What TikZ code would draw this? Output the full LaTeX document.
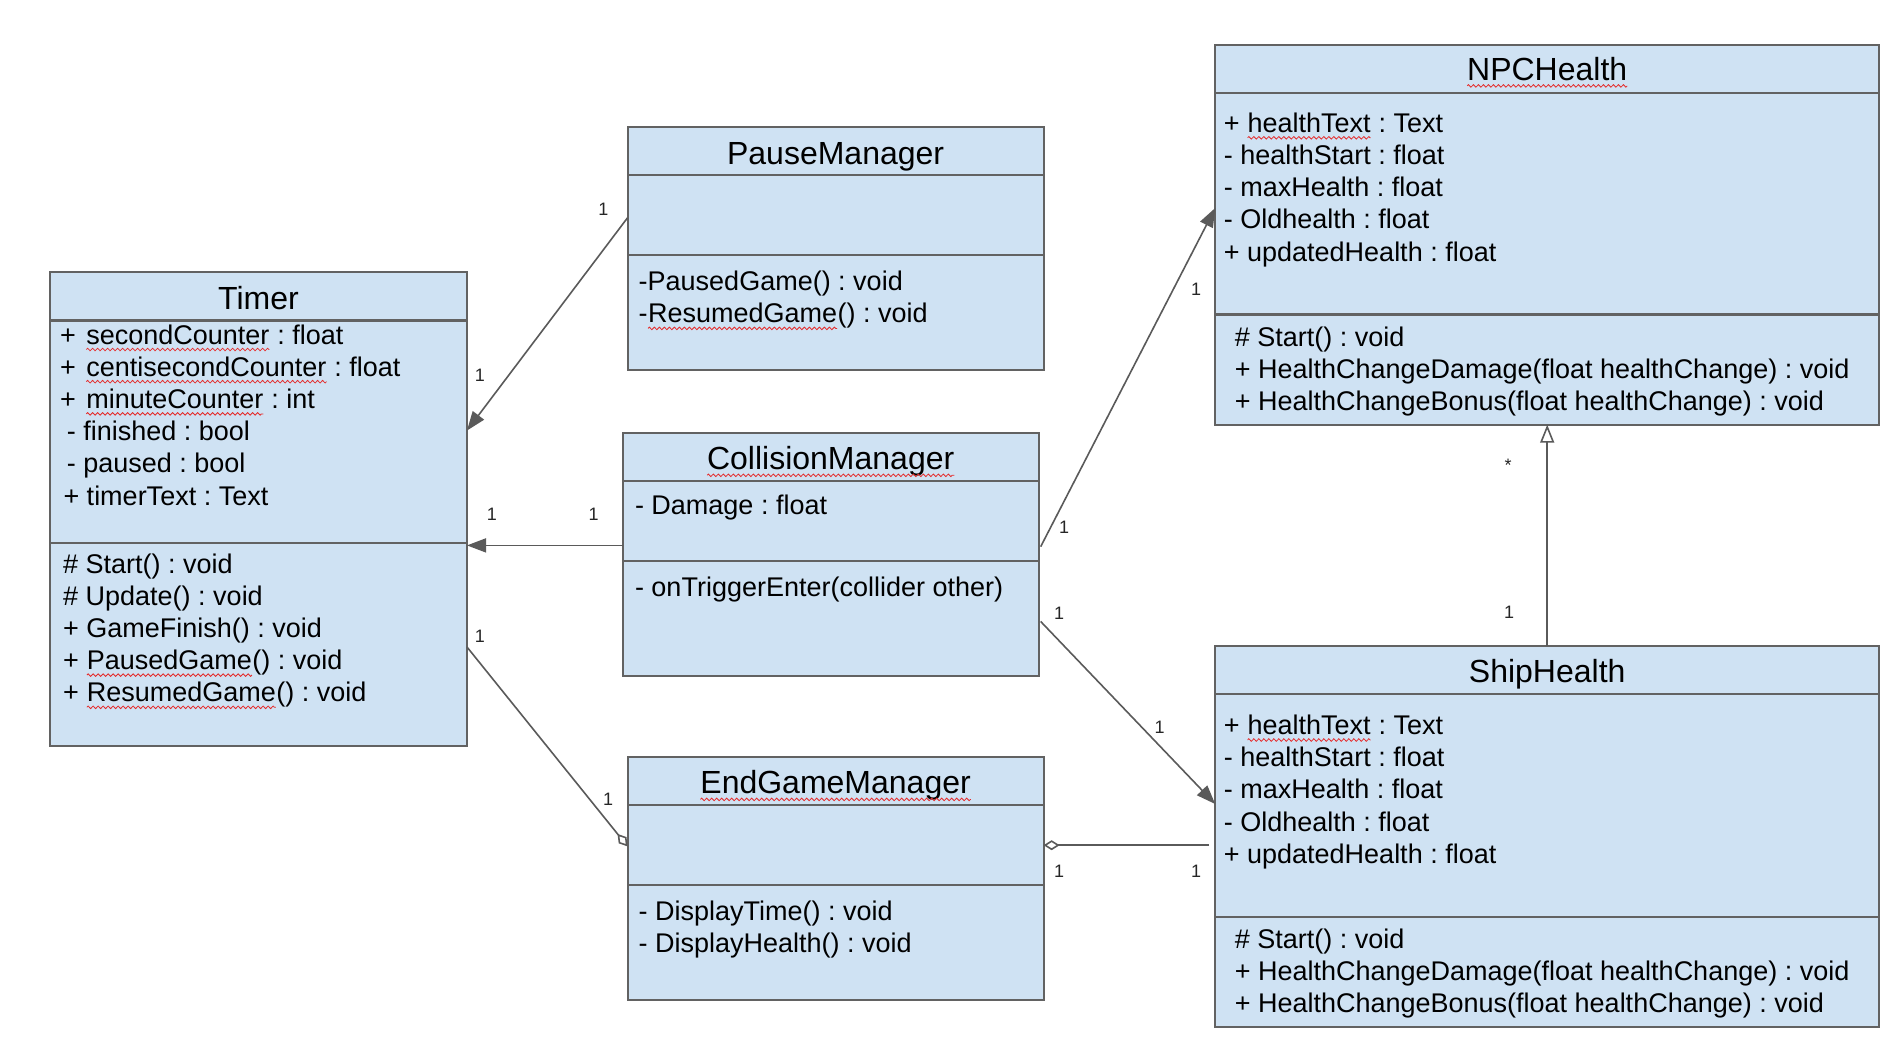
\documentclass[tikz,border=0pt]{standalone}
\usepackage{fontspec}
\setmainfont{Liberation Sans}
\usetikzlibrary{arrows.meta,calc,decorations.pathmorphing}
\frenchspacing

\definecolor{boxfill}{HTML}{CFE2F3}
\definecolor{boxline}{HTML}{626262}
\definecolor{wireline}{HTML}{5A5A5A}
\definecolor{spellred}{HTML}{E52B2B}

% word with a red wavy spell-check underline
\newcommand\squig[1]{\tikz[baseline=(sqw.base)]{%
  \node[inner sep=0pt, outer sep=0pt, anchor=base] (sqw) {#1};
  \draw[spellred, line width=0.8pt, decorate,
        decoration={zigzag, segment length=5pt, amplitude=1.3pt}]
    ([yshift=-5.5pt]sqw.base west) -- ([yshift=-5.5pt]sqw.base east);}}

% one text row per list item, 32.2pt apart
\newcommand\classrows[4]{%
  \foreach \rowtext [count=\rk] in {#4}{%
    \node[member] (#1-\rk) at (#2,{#3+(\rk-1)*32.2}) {\rowtext};
  }%
}
% horizontal compartment separator inside a class box
\newcommand\compsep[2]{%
  \draw[divider] ($(#1.north west)+(0,#2)$) -- ($(#1.north east)+(0,#2)$);%
}

\tikzset{
  umlbox/.style={draw=boxline, fill=boxfill, line width=2.2pt, anchor=north west,
                 inner sep=0pt, outer sep=0pt},
  divider/.style={draw=boxline, line width=2.2pt},
  member/.style={anchor=base west, inner sep=0pt, font=\fontsize{27}{32}\selectfont\frenchspacing},
  clsname/.style={anchor=base, inner sep=0pt, font=\fontsize{32}{38}\selectfont},
  mult/.style={anchor=base, inner sep=0pt, font=\fontsize{18}{20}\selectfont, text=black!85},
  assoc/.style={draw=wireline, line width=1.6pt},
  navig/.style={assoc, -{Triangle[length=19pt,width=14pt]}},
  aggr/.style={assoc, -{Diamond[open,fill=white,length=16pt,width=10pt]}},
  inherit/.style={assoc, -{Triangle[open,fill=white,length=18pt,width=14pt]}},
}

\begin{document}
\begin{tikzpicture}[x=1pt,y=-1pt]
\fill[white] (0,0) rectangle (1896,1053);
\useasboundingbox (0,0) rectangle (1896,1053);

% ---------- class boxes ----------
\node[umlbox, minimum width=417pt, minimum height=474pt] (timer) at (50,272) {};
\node[umlbox, minimum width=416pt, minimum height=243pt] (pause) at (627.6,127) {};
\node[umlbox, minimum width=416pt, minimum height=243pt] (coll) at (622.7,433) {};
\node[umlbox, minimum width=416pt, minimum height=243pt] (endg) at (627.6,757) {};
\node[umlbox, minimum width=664pt, minimum height=380pt] (npc) at (1215.2,44.7) {};
\node[umlbox, minimum width=664pt, minimum height=381pt] (ship) at (1215.2,645.7) {};

\compsep{timer}{48.5}  \compsep{timer}{271}
\compsep{pause}{48.3}  \compsep{pause}{128.1}
\compsep{coll}{48.3}   \compsep{coll}{128.1}
\compsep{endg}{48.3}   \compsep{endg}{128.1}
\compsep{npc}{48.4}    \compsep{npc}{269.7}
\compsep{ship}{48.4}   \compsep{ship}{270.9}

% ---------- Timer ----------
\node[clsname] (timer-t) at (258.5,309) {Timer};
\classrows{timer-a}{60}{344}{%
  {+\hspace{10pt}\squig{secondCounter} : float},
  {+\hspace{10pt}\squig{centisecondCounter} : float},
  {+\hspace{10pt}\squig{minuteCounter} : int},
  {\hspace{6.7pt}- finished : bool},
  {\hspace{6.7pt}- paused : bool},
  {\hspace{3.3pt}+ timerText : Text}}
\classrows{timer-m}{63}{573}{%
  {\# Start() : void},
  {\# Update() : void},
  {+ GameFinish() : void},
  {+ \squig{PausedGame}() : void},
  {+ \squig{ResumedGame}() : void}}

% ---------- PauseManager ----------
\node[clsname] (pause-t) at (835.6,164) {PauseManager};
\classrows{pause-m}{638.5}{290.7}{%
  {-PausedGame() : void},
  {-\squig{ResumedGame}() : void}}

% ---------- CollisionManager ----------
\node[clsname] (coll-t) at (830.7,469.8) {\squig{CollisionManager}};
\classrows{coll-a}{634.8}{514.4}{{- Damage : float}}
\classrows{coll-m}{634.8}{596.7}{{- onTriggerEnter(collider other)}}

% ---------- EndGameManager ----------
\node[clsname] (endg-t) at (835.6,793.9) {\squig{EndGameManager}};
\classrows{endg-m}{638.5}{920.7}{%
  {- DisplayTime() : void},
  {- DisplayHealth() : void}}

% ---------- NPCHealth ----------
\node[clsname] (npc-t) at (1547.2,80.4) {\squig{NPCHealth}};
\classrows{npc-a}{1223.7}{132.3}{%
  {+ \squig{healthText} : Text},
  {- healthStart : float},
  {- maxHealth : float},
  {- Oldhealth : float},
  {+ updatedHealth : float}}
\classrows{npc-m}{1234.6}{346.4}{%
  {\# Start() : void},
  {+ HealthChangeDamage(float healthChange) : void},
  {+ HealthChangeBonus(float healthChange) : void}}

% ---------- ShipHealth ----------
\node[clsname] (ship-t) at (1547.2,682.6) {ShipHealth};
\classrows{ship-a}{1223.7}{734.5}{%
  {+ \squig{healthText} : Text},
  {- healthStart : float},
  {- maxHealth : float},
  {- Oldhealth : float},
  {+ updatedHealth : float}}
\classrows{ship-m}{1234.6}{948.5}{%
  {\# Start() : void},
  {+ HealthChangeDamage(float healthChange) : void},
  {+ HealthChangeBonus(float healthChange) : void}}

% ---------- connector end points on the box edges ----------
\coordinate (pause-in)  at ($(pause.north west)+(0,90.7)$);
\coordinate (timer-r1)  at ($(timer.north east)+(0,158.5)$);
\coordinate (coll-l)    at ($(coll.north west)+(0,112.4)$);
\coordinate (timer-r2)  at ($(timer.north east)+(0,273.4)$);
\coordinate (timer-r3)  at ($(timer.north east)+(0,375)$);
\coordinate (endg-l)    at ($(endg.north west)+(0,89.4)$);
\coordinate (coll-r1)   at ($(coll.north east)+(2,113.6)$);
\coordinate (npc-l)     at ($(npc.north west)+(0,163.3)$);
\coordinate (coll-r2)   at ($(coll.north east)+(2,188.5)$);
\coordinate (ship-l1)   at ($(ship.north west)+(0,158.3)$);
\coordinate (ship-l2)   at ($(ship.north west)+(-6,199.5)$);
\coordinate (endg-r)    at ($(endg.north east)+(0,88.2)$);

% ---------- connectors ----------
\draw[navig]   (pause-in) -- (timer-r1);
\draw[navig]   (coll-l)   -- (timer-r2);
\draw[aggr]    (timer-r3) -- (endg-l);
\draw[navig]   (coll-r1)  -- (npc-l);
\draw[navig]   (coll-r2)  -- (ship-l1);
\draw[aggr]    (ship-l2)  -- (endg-r);
\draw[inherit] (ship.north) -- (npc.south);

% ---------- multiplicities ----------
\node[mult] (m-pt1) at (603.4,215.5) {1};
\node[mult] (m-pt2) at (480,381.5) {1};
\node[mult] (m-ct1) at (492,520.5) {1};
\node[mult] (m-ct2) at (593.7,520.5) {1};
\node[mult] (m-te1) at (480,642.5) {1};
\node[mult] (m-te2) at (608,805.5) {1};
\node[mult] (m-cn1) at (1064,533.5) {1};
\node[mult] (m-cn2) at (1196,295.5) {1};
\node[mult] (m-cs1) at (1059,619.5) {1};
\node[mult] (m-cs2) at (1159.6,733.2) {1};
\node[mult] (m-se1) at (1059,877.1) {1};
\node[mult] (m-se2) at (1196,877.1) {1};
\node[mult] (m-sn1) at (1508,471) {*};
\node[mult] (m-sn2) at (1509,618.5) {1};
\end{tikzpicture}
\end{document}
